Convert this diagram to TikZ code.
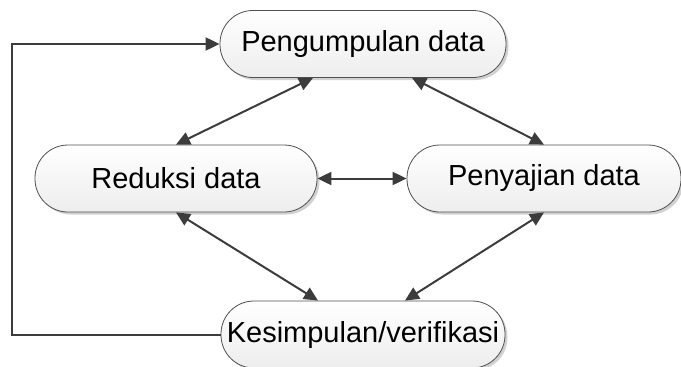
\documentclass[tikz,border=0pt]{standalone}
\usepackage{fontspec}
\setmainfont{Liberation Sans}
\usetikzlibrary{arrows.meta,shadows}
\definecolor{linec}{HTML}{3C3C3C}
\definecolor{boxedge}{HTML}{505050}
\begin{document}
\begin{tikzpicture}[x=1pt,y=-1pt,
  stage/.style={draw=boxedge, line width=0.8pt, rounded corners=33pt,
    top color=white, bottom color=gray!14, inner sep=0pt,
    minimum height=67pt, font=\fontsize{29}{34}\selectfont,
    drop shadow={shadow xshift=2.5pt, shadow yshift=-2.5pt, fill=black, opacity=0.18}},
  conn/.style={draw=linec, line width=2pt,
    {Triangle[length=14pt,width=13pt]}-{Triangle[length=14pt,width=13pt]}},
  fb/.style={draw=linec, line width=2pt, -{Triangle[length=14pt,width=13pt]}}]
\useasboundingbox (0,0) rectangle (681,367);
\node[stage, minimum width=286pt] (pg) at (363,44) {Pengumpulan data};
\node[stage, minimum width=282pt] (rd) at (176,178.5) {Reduksi data};
\node[stage, minimum width=274pt] (pj) at (544,178.5) {Penyajian data};
\node[stage, minimum width=284pt] (ks) at (363,334.5) {Kesimpulan/verifikasi};
\coordinate (fbc) at (12,334.5);
\draw[conn] ([xshift=-50pt]pg.south) -- (rd.north);
\draw[conn] ([xshift=49pt]pg.south) -- (pj.north);
\draw[conn] (rd.east) -- (pj.west);
\draw[conn] (rd.south) -- ([xshift=-45pt]ks.north);
\draw[conn] (pj.south) -- ([xshift=42pt]ks.north);
\draw[fb] (ks.west) -- (fbc) |- (pg.west);
\end{tikzpicture}
\end{document}
